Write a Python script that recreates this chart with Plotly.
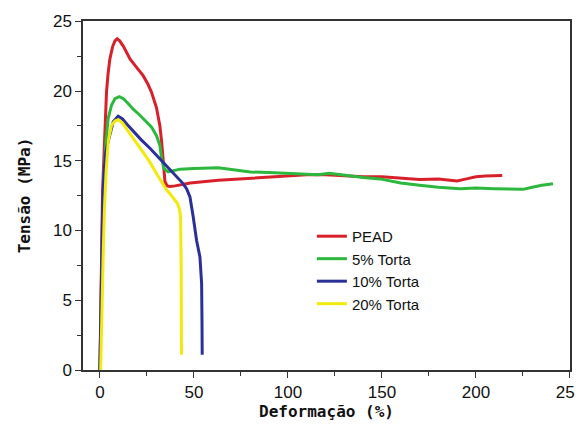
import plotly.graph_objects as go

# ---- data ----
pead_x = [0, 0.5, 1.0, 1.4, 2.1, 2.7, 3.5, 4.3, 5.3, 6.8, 8, 9.2, 10.5, 12.5, 16, 19.5, 23, 25.5, 27.5, 30.1, 31.9, 32.8,
          33.7, 34.6, 35.8, 37.2, 40, 48, 63, 75, 90, 100, 110, 120, 130, 140, 150, 160, 170, 180, 190, 195, 200, 205, 214]
pead_y = [0, 4, 8.5, 12.8, 15.2, 17.5, 19.9, 21.2, 22.3, 23.2, 23.6, 23.75, 23.6, 23.2, 22.3, 21.7, 21.1, 20.5, 19.9, 18.8, 17.5, 16.4,
          14.7, 13.5, 13.2, 13.15, 13.2, 13.4, 13.6, 13.7, 13.85, 13.9, 14.0, 14.0, 13.9, 13.85, 13.85, 13.75, 13.65, 13.7, 13.55, 13.7, 13.85, 13.9, 13.95]

t5_x = [0, 0.5, 1.0, 1.5, 2.1, 3.2, 4.4, 6.2, 8, 10.3, 12.5, 15, 17.7, 21, 24.8, 27.5, 30.1, 31.9, 32.8, 34, 36.3, 39, 42.6, 50,
        62.9, 71, 80, 90, 100, 110, 116, 122, 130, 140, 149, 160, 170, 180, 191.5, 200, 210, 218, 225, 230, 235, 241]
t5_y = [0, 4, 8, 11.5, 14.0, 16.4, 18.05, 19.0, 19.45, 19.6, 19.45, 19.1, 18.7, 18.3, 17.8, 17.4, 16.8, 16.1, 15.2, 14.45, 14.2, 14.3, 14.4, 14.45,
        14.5, 14.35, 14.2, 14.15, 14.1, 14.05, 14.0, 14.1, 13.95, 13.8, 13.7, 13.4, 13.25, 13.1, 13.0, 13.05, 13.0, 12.95, 12.95, 13.1, 13.25, 13.35]

t10_x = [0, 0.5, 1.0, 1.5, 2.1, 3.0, 4.0, 5.3, 7.1, 9.7, 12, 14.5, 17.7, 22, 26.6, 30, 33.7, 37.5, 40.8, 44, 46.1, 47.9,
         49.6, 51.4, 53.2, 54.1, 54.3, 54.4]
t10_y = [0, 4, 8.5, 12, 14, 15.5, 16.2, 16.8, 17.8, 18.2, 18.0, 17.6, 17.1, 16.5, 15.9, 15.4, 14.9, 14.35, 13.85, 13.4, 13.0, 12.4,
         11.0, 9.3, 8.1, 6.2, 3.5, 1.1]

t20_x = [0.4, 0.8, 1.3, 1.8, 2.4, 3.2, 4.4, 6.2, 8, 9.7, 12, 14.5, 17.7, 22, 26.6, 30, 33.7, 35.5, 37.5, 39.9, 41.2, 42.2,
         42.9, 43.2, 43.4, 43.4]
t20_y = [0, 3, 6, 8.6, 11.5, 14.0, 16.4, 17.55, 17.85, 17.95, 17.7, 17.2, 16.6, 15.8, 14.9, 14.1, 13.25, 12.9, 12.6, 12.2, 11.95, 11.6,
         11.0, 8, 4, 1.1]

names = ["PEAD", "5% Torta", "10% Torta", "20% Torta"]
colors = ["#d8202a", "#2cb83c", "#2b2f98", "#f2ea0a"]
xs = [pead_x, t5_x, t10_x, t20_x]
ys = [pead_y, t5_y, t10_y, t20_y]

fig = go.Figure()
for n, c, x, y in zip(names, colors, xs, ys):
    fig.add_trace(go.Scatter(x=x, y=y, mode="lines", name=n,
                             line=dict(color=c, width=3)))

tick_font = dict(family="Liberation Sans, Arial", size=17, color="#111")
title_font = dict(family="DejaVu Sans Mono, monospace", size=16, color="#111")

axis_common = dict(showline=True, linecolor="#333", linewidth=1.5, mirror=True,
                   ticks="outside", ticklen=6, tickwidth=1.2, tickcolor="#333",
                   showgrid=False, zeroline=False, tickfont=tick_font, automargin=False,
                   ticklabeloverflow="allow")

fig.update_xaxes(range=[-9, 250.05], tick0=0, dtick=50,
                 minor=dict(dtick=25, tick0=0, ticks="outside", ticklen=4, tickcolor="#333", showgrid=False),
                 title=dict(text="<b>Deformação (%)</b>", font=title_font, standoff=3),
                 **axis_common)
fig.update_yaxes(range=[0, 25.02], tick0=0, dtick=5,
                 minor=dict(dtick=2.5, tick0=0, ticks="outside", ticklen=4, tickcolor="#333", showgrid=False),
                 title=dict(text="<b>Tensão (MPa)</b>", font=title_font, standoff=18),
                 **axis_common)

# the page body adds an 8px offset, so the figure is 8px smaller than the window
fig.update_layout(
    width=575, height=417,
    margin=dict(l=75, r=13, t=13, b=55),
    plot_bgcolor="white", paper_bgcolor="white",
    showlegend=True,
    legend=dict(x=0.47, y=0.43, xanchor="left", yanchor="top",
                bgcolor="rgba(0,0,0,0)", font=dict(family="Liberation Sans, Arial", size=15, color="#111"),
                tracegroupgap=0, itemwidth=30),
)

fig.write_html("out.html")
